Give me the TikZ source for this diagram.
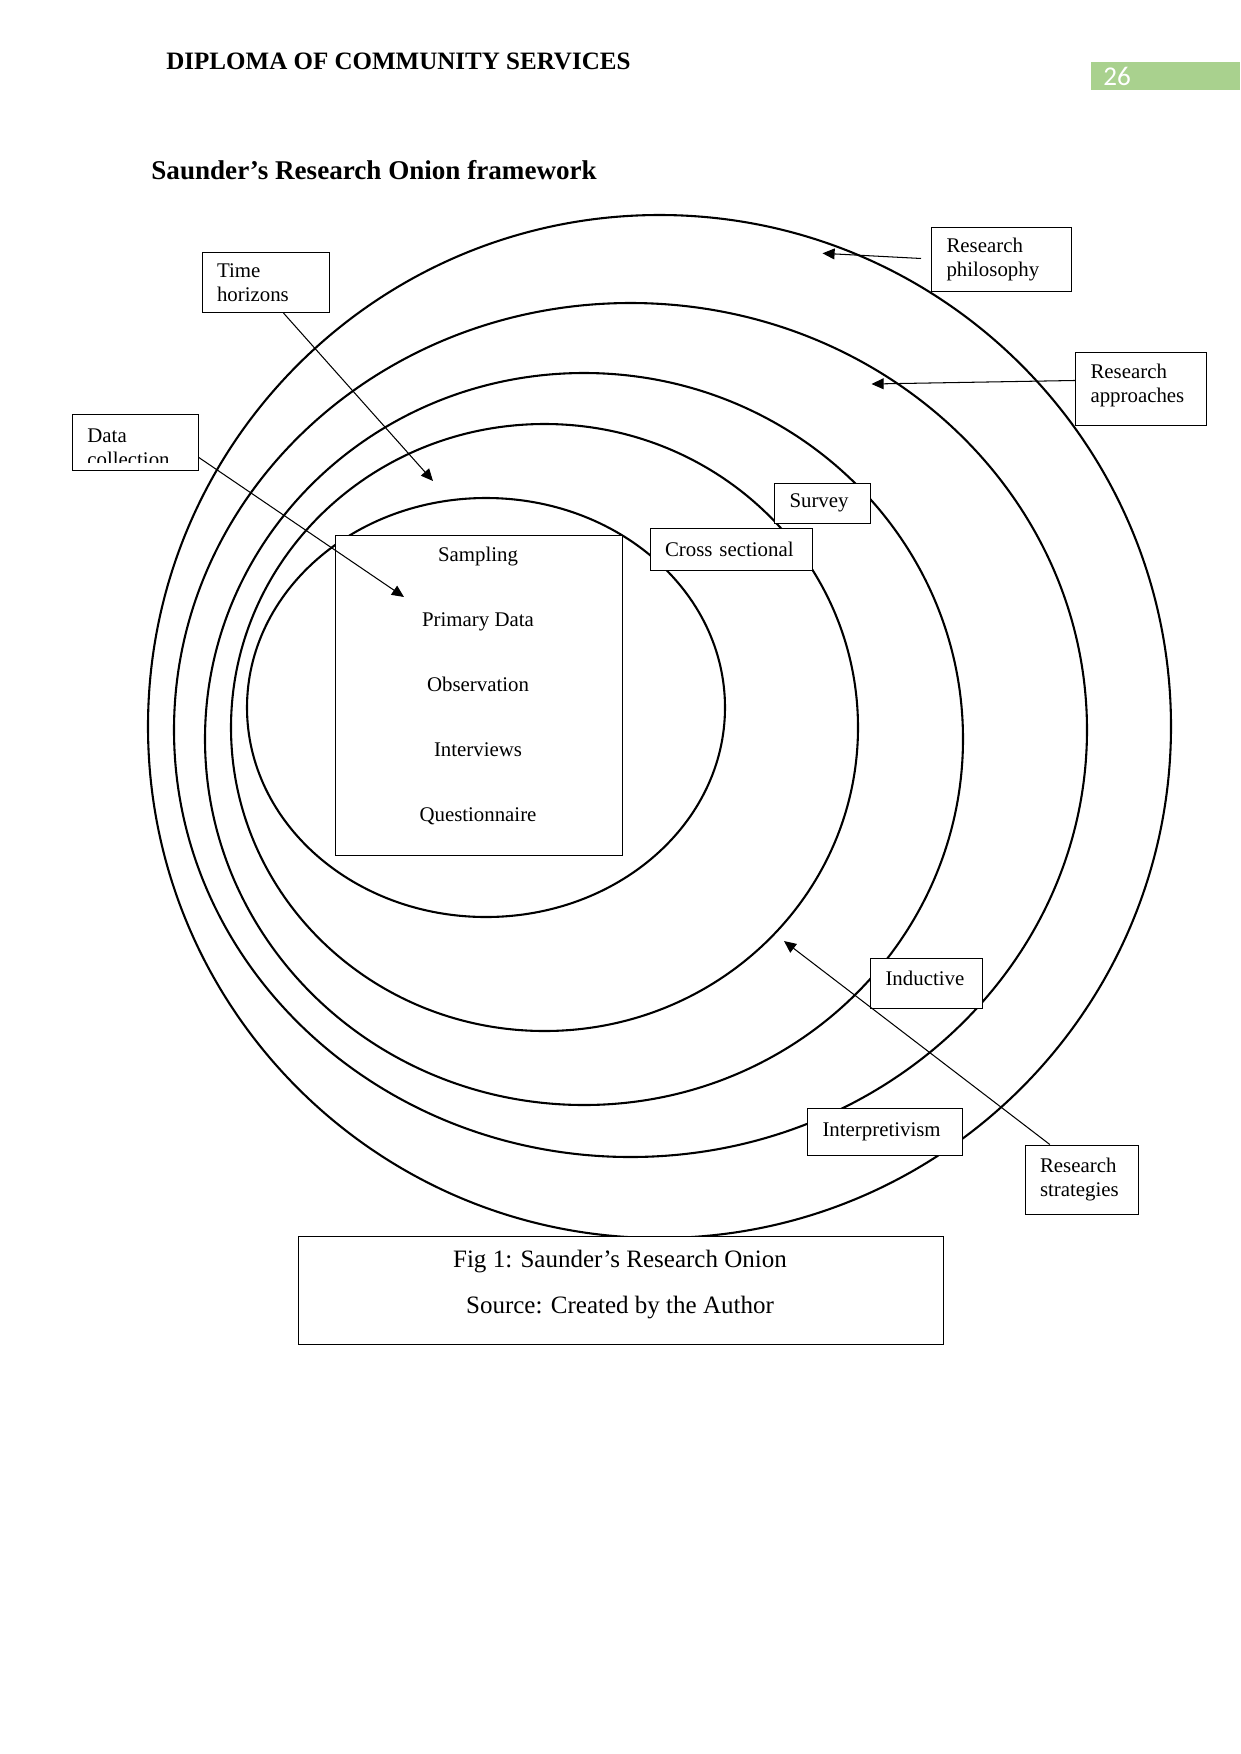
\documentclass[tikz,border=0pt]{standalone}
\usepackage{fontspec}
\setmainfont{Liberation Serif}
\newfontfamily\numfont{Carlito}
\usetikzlibrary{arrows.meta}
\newcommand\pxu{0.47968pt}
\definecolor{pagegreen}{HTML}{A9D18E}
\begin{document}
\begin{tikzpicture}[x=0.47968pt,y=-0.47968pt,
  ring/.style={draw=black,line width=1pt},
  lbl/.style={draw=black,fill=white,line width=0.5pt,font=\fontsize{10}{11.5}\selectfont,
    align=left,anchor=north west,inner ysep=0pt,inner xsep=7.2pt},
  plainbox/.style={draw=black,fill=white,line width=0.5pt,anchor=north west,inner sep=0pt},
  arr/.style={line width=0.5pt,-{Triangle[length=5.8pt,width=5.2pt]}},
  hdrtext/.style={anchor=west,inner sep=0pt,font=\bfseries\fontsize{12}{14}\selectfont}
]
\useasboundingbox (0,0) rectangle (1241,1754);
\fill[white] (0,0) rectangle (1241,1754);

% header
\node[hdrtext] (hdr) at (166,61) {DIPLOMA OF COMMUNITY SERVICES};
\node[fill=pagegreen,anchor=north west,minimum width=71.5pt,minimum height=13pt,
  text width=60pt,inner xsep=3.8pt,inner ysep=0pt,align=left,text=white,
  font=\numfont\fontsize{13}{15}\selectfont] (pg) at (1091,62) {26};
\node[hdrtext,font=\bfseries\fontsize{13}{15}\selectfont] (title) at (151,170) {Saunder’s Research Onion framework};

% onion rings
\draw[ring] (659.5,726.5) ellipse [x radius={511.5*\pxu}, y radius={511.5*\pxu}];
\draw[ring] (630.5,730) ellipse [x radius={456.5*\pxu}, y radius={427*\pxu}];
\draw[ring] (584,739) ellipse [x radius={379*\pxu}, y radius={366*\pxu}];
\draw[ring] (544.5,727.5) ellipse [x radius={313.5*\pxu}, y radius={303.5*\pxu}];
\draw[ring] (486,707.5) ellipse [x radius={239*\pxu}, y radius={209.5*\pxu}];

% inner rectangle
\node[plainbox,minimum width=137.7pt,minimum height=153.5pt] (bigrect) at (334.5,535) {};
\node[font=\fontsize{10}{31.2}\selectfont,align=center,inner sep=0pt] (bigtxt) at (478,686)
  {Sampling\\Primary Data\\Observation\\Interviews\\Questionnaire};

% labels
\node[lbl,text width=52.8pt,minimum height=30.7pt] (rp) at (931,227) {Research\\philosophy};
\node[lbl,text width=48.4pt,minimum height=35.3pt,text depth=16.9pt] (ra) at (1075,351.5) {Research\\approaches};
\node[lbl,text width=46.8pt,minimum height=28.8pt] (th) at (201.5,252) {Time\\horizons};
\node[plainbox,minimum width=60.4pt,minimum height=26.9pt] (dc) at (72,414) {};
\begin{scope}
  \clip (73,415) rectangle (197,462);
  \node[anchor=base west,inner sep=0pt,font=\fontsize{10}{11.5}\selectfont,align=left] (dctext) at (87,466) {Data\\collection};
\end{scope}
\node[lbl,text width=31.7pt,minimum height=19.4pt] (sv) at (774,482.5) {Survey};
\node[lbl,text width=63.6pt,minimum height=20.1pt] (cs) at (649.5,528) {Cross sectional};
\node[lbl,text width=39.3pt,minimum height=24pt,text depth=4.8pt] (ind) at (870,957.5) {Inductive};
\node[lbl,text width=60pt,minimum height=22.5pt] (itp) at (807,1108) {Interpretivism};
\node[lbl,text width=39.8pt,minimum height=33.1pt] (rs) at (1024.5,1144.5) {Research\\strategies};

% caption
\node[plainbox,minimum width=309.4pt,minimum height=51.8pt] (cap) at (297.5,1236) {};
\node[font=\fontsize{12}{21.6}\selectfont,align=center,inner sep=0pt] (captxt) at (620,1284.5)
  {Fig 1: Saunder’s Research Onion\\Source: Created by the Author};

% arrows
\coordinate (rptip) at (822.5,253.3);
\coordinate (ratip) at (871.5,384);
\coordinate (thtip) at (433,481);
\coordinate (dctip) at (404,597);
\coordinate (rstip) at (784,941);
\draw[arr] ([xshift=-4.8pt,yshift=0.5pt]rp.west) -- (rptip);
\draw[arr] ([yshift=4pt]ra.west) -- (ratip);
\draw[arr] ([xshift=8.5pt]th.south) -- (thtip);
\draw[arr] ([yshift=-7.2pt]dc.east) -- (dctip);
\draw[arr] ([xshift=-15.2pt]rs.north) -- (rstip);
\end{tikzpicture}
\end{document}
